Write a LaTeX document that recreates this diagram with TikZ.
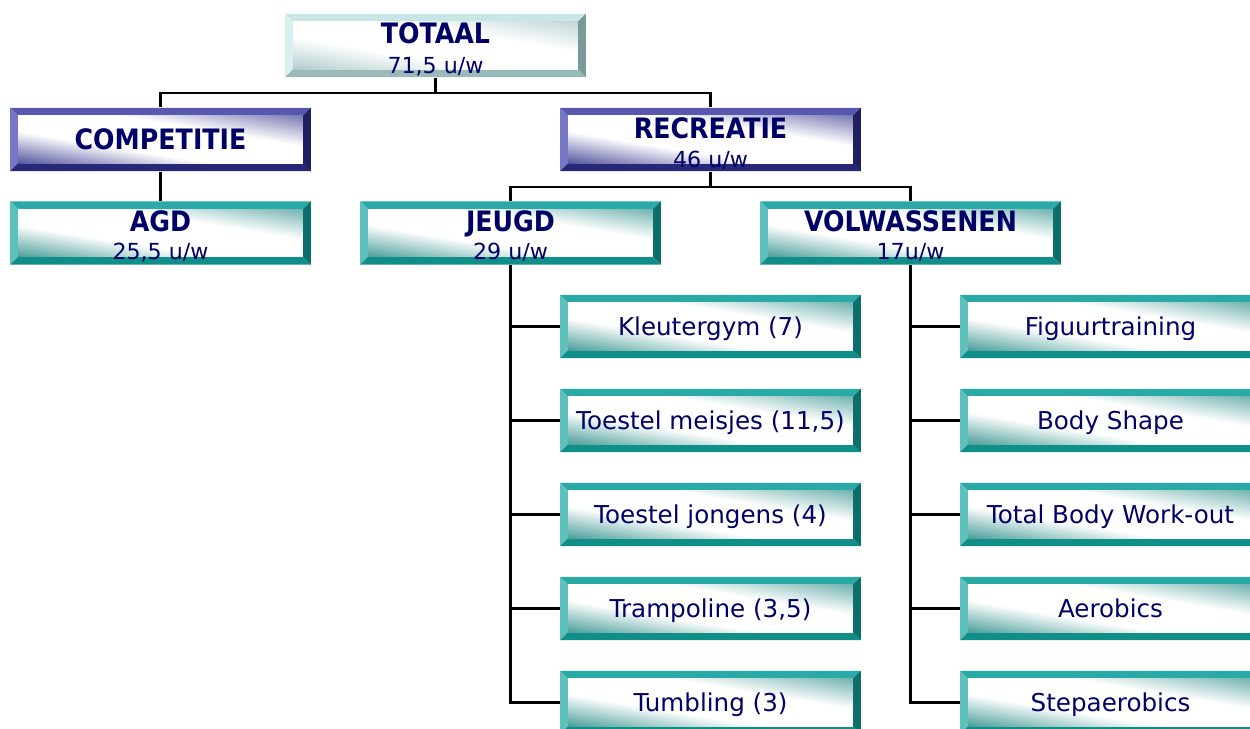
\documentclass[tikz,border=0pt]{standalone}
\usepackage{fontspec}
\setmainfont{DejaVu Sans}[BoldFont=DejaVu Sans Condensed Bold]
\usetikzlibrary{calc,positioning}
\definecolor{tealtop}{RGB}{42, 170, 166}
\definecolor{tealleft}{RGB}{92, 192, 189}
\definecolor{tealright}{RGB}{13, 111, 107}
\definecolor{tealbottom}{RGB}{16, 143, 136}
\definecolor{navytop}{RGB}{88, 88, 176}
\definecolor{navyleft}{RGB}{118, 118, 196}
\definecolor{navyright}{RGB}{32, 32, 96}
\definecolor{navybottom}{RGB}{40, 40, 120}
\definecolor{icetop}{RGB}{200, 230, 230}
\definecolor{iceleft}{RGB}{218, 240, 240}
\definecolor{iceright}{RGB}{122, 154, 154}
\definecolor{icebottom}{RGB}{154, 186, 186}
\definecolor{ink}{RGB}{0, 0, 102}
\pgfdeclarefunctionalshading{tealfade}{\pgfpointorigin}{\pgfpoint{100bp}{100bp}}{}{
  add 50 sub 100 div
  dup 0.34 div neg 1 add 0.9 mul dup 0 lt {pop 0} if
  exch 0.68 sub 0.32 div 0.7 mul dup 0 lt {pop 0} if
  add
  dup 0.78 mul neg 1 add
  exch dup 0.42 mul neg 1 add
  exch 0.44 mul neg 1 add
}
\pgfdeclarefunctionalshading{navyfade}{\pgfpointorigin}{\pgfpoint{100bp}{100bp}}{}{
  add 50 sub 100 div
  dup 0.34 div neg 1 add 0.9 mul dup 0 lt {pop 0} if
  exch 0.68 sub 0.32 div 0.7 mul dup 0 lt {pop 0} if
  add
  dup 0.74 mul neg 1 add
  exch dup 0.74 mul neg 1 add
  exch 0.42 mul neg 1 add
}
\pgfdeclarefunctionalshading{icefade}{\pgfpointorigin}{\pgfpoint{100bp}{100bp}}{}{
  add 50 sub 100 div
  dup 0.34 div neg 1 add 0.9 mul dup 0 lt {pop 0} if
  exch 0.68 sub 0.32 div 0.7 mul dup 0 lt {pop 0} if
  add
  dup 0.34 mul neg 1 add
  exch dup 0.22 mul neg 1 add
  exch 0.22 mul neg 1 add
}
\newcommand\bevelw{0.16cm}
\newcommand\bevelpic[5]{%
  \coordinate (bnw) at (path picture bounding box.north west);
  \coordinate (bne) at (path picture bounding box.north east);
  \coordinate (bsw) at (path picture bounding box.south west);
  \coordinate (bse) at (path picture bounding box.south east);
  \fill[#1] (bnw) -- (bne) -- ($(bne)+(-\bevelw,-\bevelw)$) -- ($(bnw)+(\bevelw,-\bevelw)$) -- cycle;
  \fill[#2] (bnw) -- (bsw) -- ($(bsw)+(\bevelw,\bevelw)$)   -- ($(bnw)+(\bevelw,-\bevelw)$) -- cycle;
  \fill[#3] (bne) -- (bse) -- ($(bse)+(-\bevelw,\bevelw)$)  -- ($(bne)+(-\bevelw,-\bevelw)$) -- cycle;
  \fill[#4] (bsw) -- (bse) -- ($(bse)+(-\bevelw,\bevelw)$)  -- ($(bsw)+(\bevelw,\bevelw)$) -- cycle;
  \shade[shading=#5] ($(bnw)+(\bevelw,-\bevelw)$) rectangle ($(bse)+(-\bevelw,\bevelw)$);
}
\tikzset{
  box/.style={rectangle, inner sep=0pt, minimum width=6.02cm, minimum height=1.27cm, fill=white, text=ink},
  tealbox/.style={box, path picture={\bevelpic{tealtop}{tealleft}{tealright}{tealbottom}{tealfade}}},
  navybox/.style={box, path picture={\bevelpic{navytop}{navyleft}{navyright}{navybottom}{navyfade}}},
  icebox/.style={box, path picture={\bevelpic{icetop}{iceleft}{iceright}{icebottom}{icefade}}},
  head/.style={inner sep=0pt, text=ink, font=\bfseries\fontsize{16}{18}\selectfont, text height=11.7pt, text depth=0pt},
  hours/.style={inner sep=0pt, text=ink, font=\fontsize{12.6}{15}\selectfont, text height=9.2pt, text depth=0pt},
  leaf/.style={tealbox, font=\fontsize{14}{16}\selectfont, text height=10.2pt, text depth=0pt},
  link/.style={line width=1.2pt}
}
\begin{document}
\begin{tikzpicture}[x=0.02cm, y=-0.02cm]
  \useasboundingbox (0, 0) rectangle (1250, 729);
  \clip (0, 0) rectangle (1250, 729);

  \node[icebox]  (totaal) at (435.5,  45.5) {};
  \node[navybox, head] (comp) at (160.5, 139.5) {COMPETITIE};
  \node[navybox] (recr)   at (710.5, 139.5) {};
  \node[tealbox] (agd)    at (160.5, 233.0) {};
  \node[tealbox] (jeugd)  at (510.5, 233.0) {};
  \node[tealbox] (volw)   at (910.5, 233.0) {};

  \node[head]  (totaalT) at ([yshift=0.24cm]totaal.center)  {TOTAAL};
  \node[hours] (totaalH) at ([yshift=-0.39cm]totaal.center) {71,5 u/w};
  \node[head]  (recrT)   at ([yshift=0.23cm]recr.center)    {RECREATIE};
  \node[hours] (recrH)   at ([yshift=-0.39cm]recr.center)   {46 u/w};
  \node[head]  (agdT)    at ([yshift=0.24cm]agd.center)     {AGD};
  \node[hours] (agdH)    at ([yshift=-0.37cm]agd.center)    {25,5 u/w};
  \node[head]  (jeugdT)  at ([yshift=0.24cm]jeugd.center)   {JEUGD};
  \node[hours] (jeugdH)  at ([yshift=-0.37cm]jeugd.center)  {29 u/w};
  \node[head]  (volwT)   at ([yshift=0.24cm]volw.center)    {VOLWASSENEN};
  \node[hours] (volwH)   at ([yshift=-0.37cm]volw.center)   {17u/w};

  \foreach \nm/\txt [count=\k from 0] in {kleuter/{Kleutergym (7)}, meisjes/{Toestel meisjes (11,5)}, jongens/{Toestel jongens (4)}, trampo/{Trampoline (3,5)}, tumbl/{Tumbling (3)}}
    \node[leaf] (\nm) at (710.5, 326.5+94*\k) {\txt};
  \foreach \nm/\txt [count=\k from 0] in {figuur/Figuurtraining, body/Body Shape, total/Total Body Work-out, aero/Aerobics, step/Stepaerobics}
    \node[leaf] (\nm) at (1110.5, 326.5+94*\k) {\txt};

  \draw[link] (totaal.south) -- ++(0, 15) -| (comp.north);
  \draw[link] (totaal.south) -- ++(0, 15) -| (recr.north);
  \draw[link] (comp.south) -- (agd.north);
  \draw[link] (recr.south) -- ++(0, 15) -| (jeugd.north);
  \draw[link] (recr.south) -- ++(0, 15) -| (volw.north);
  \foreach \nm in {kleuter, meisjes, jongens, trampo, tumbl}
    \draw[link] (jeugd.south) |- (\nm.west);
  \foreach \nm in {figuur, body, total, aero, step}
    \draw[link] (volw.south) |- (\nm.west);
\end{tikzpicture}
\end{document}
